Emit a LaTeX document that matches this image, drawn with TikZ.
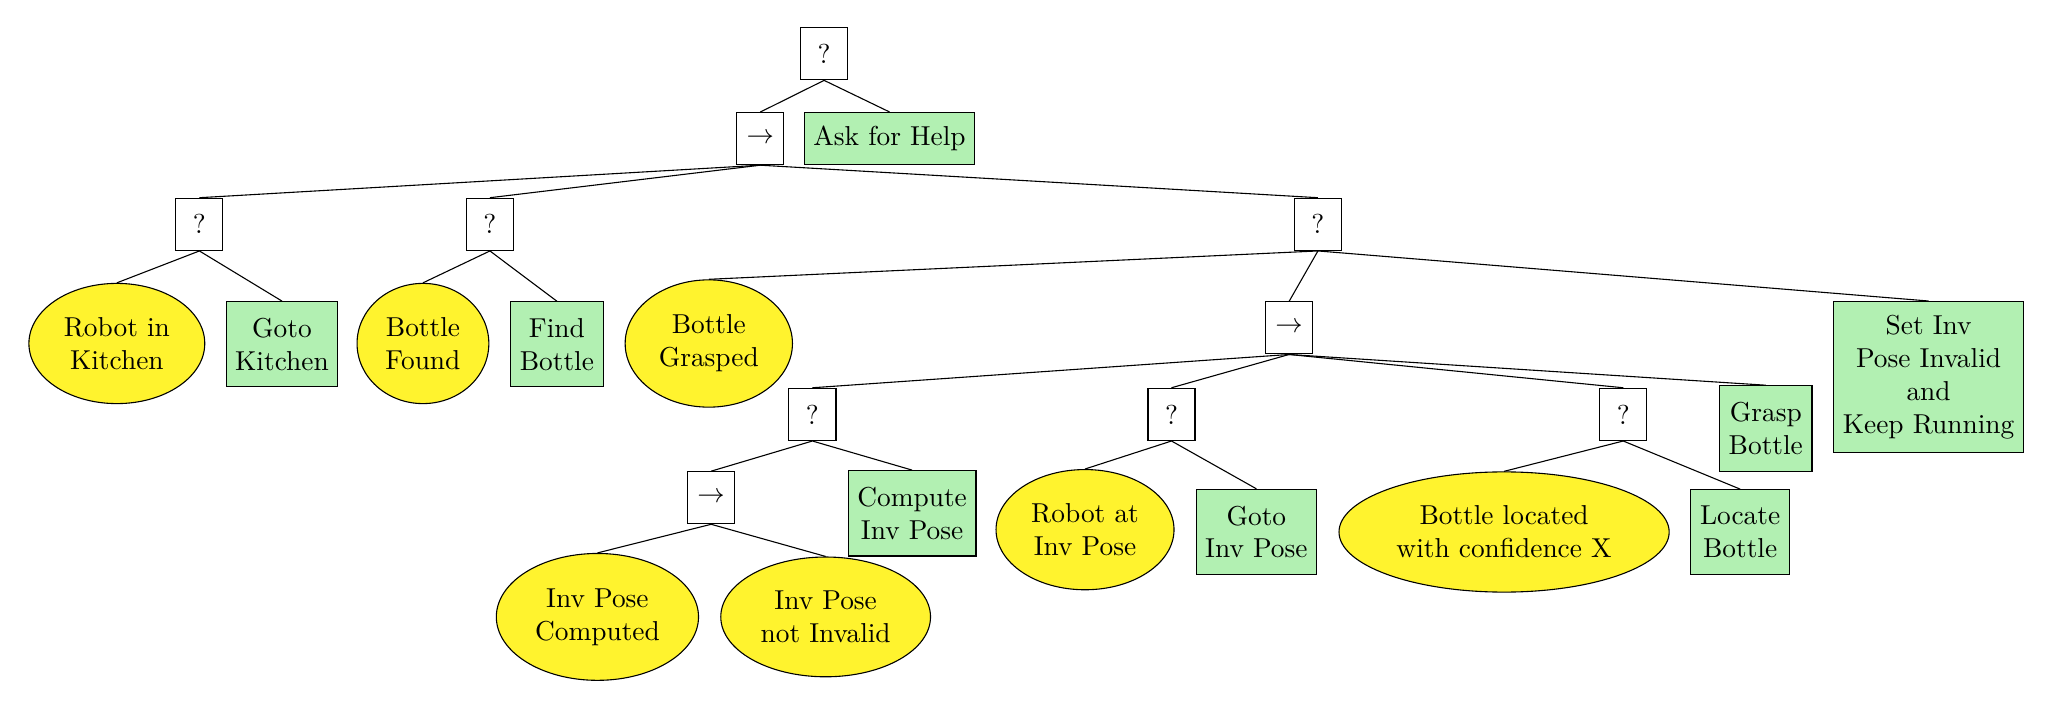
\documentclass[tikz,border=0pt]{standalone}
\usepackage{amsmath, amssymb}
\usetikzlibrary{shapes.geometric}

\definecolor{condyellow}{RGB}{255,243,46}
\definecolor{actgreen}{RGB}{178,240,178}

\begin{document}
\begin{tikzpicture}[
        ctrl/.style={draw, fill=white, minimum width=17.2pt, minimum height=19pt, inner ysep=6pt},
        act/.style={draw, fill=actgreen, align=center, inner ysep=6pt},
        cond/.style={draw, ellipse, fill=condyellow, align=center, inner ysep=6pt}]
        \useasboundingbox (0,0) rectangle (26.37,-9.065);

        % control nodes
        \node[ctrl] (root) at (10.58,-0.69) {?};
        \node[ctrl] (seqa) at (9.76,-1.78) {$\rightarrow$};
        \node[ctrl] (sela) at (2.56,-2.88) {?};
        \node[ctrl] (selb) at (6.29,-2.88) {?};
        \node[ctrl] (selc) at (16.92,-2.88) {?};
        \node[ctrl] (seqb) at (16.55,-4.21) {$\rightarrow$};
        \node[ctrl] (seld) at (10.43,-5.32) {?};
        \node[ctrl] (sele) at (15.04,-5.32) {?};
        \node[ctrl] (self) at (20.84,-5.32) {?};
        \node[ctrl] (seqc) at (9.13,-6.39) {$\rightarrow$};

        % actions
        \node[act, inner ysep=5pt] (help) at (11.42,-1.78) {Ask for Help};
        \node[act] (gotokitchen) at (3.62,-4.42) {Goto\\Kitchen};
        \node[act] (findbottle) at (7.15,-4.42) {Find\\Bottle};
        \node[act, inner ysep=5pt] (setinv) at (24.76,-4.84) {Set Inv\\Pose Invalid\\and\\Keep Running};
        \node[act] (graspbottle) at (22.67,-5.50) {Grasp\\Bottle};
        \node[act] (computepose) at (11.71,-6.59) {Compute\\Inv Pose};
        \node[act] (gotopose) at (16.13,-6.83) {Goto\\Inv Pose};
        \node[act] (locatebottle) at (22.34,-6.83) {Locate\\Bottle};

        % conditions
        \node[cond] (inkitchen) at (1.50,-4.41) {Robot in\\Kitchen};
        \node[cond] (found) at (5.43,-4.41) {Bottle\\Found};
        \node[cond] (grasped) at (9.10,-4.41) {Bottle\\Grasped};
        \node[cond] (atpose) at (13.93,-6.80) {Robot at\\Inv Pose};
        \node[cond] (located) at (19.31,-6.83) {Bottle located\\with confidence X};
        \node[cond] (computed) at (7.67,-7.92) {Inv Pose\\Computed};
        \node[cond] (notinvalid) at (10.60,-7.92) {Inv Pose\\not Invalid};

        \foreach \p/\c in {root/seqa, root/help,
                seqa/sela, seqa/selb, seqa/selc,
                sela/inkitchen, sela/gotokitchen, selb/found, selb/findbottle,
                selc/grasped, selc/seqb, selc/setinv,
                seqb/seld, seqb/sele, seqb/self, seqb/graspbottle,
                seld/seqc, seld/computepose, sele/atpose, sele/gotopose,
                self/located, self/locatebottle,
                seqc/computed, seqc/notinvalid}
            \draw (\p.south) -- (\c.north);
      \end{tikzpicture}
\end{document}
